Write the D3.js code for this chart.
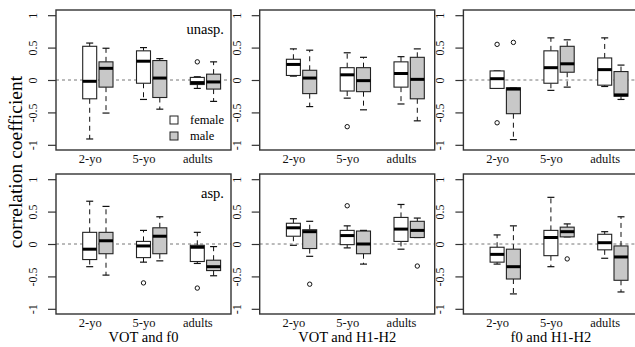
<!DOCTYPE html>
<html>
<head>
<meta charset="utf-8">
<script src="https://cdn.jsdelivr.net/npm/d3@7"></script>
<style>
  body { margin: 0; background: #fff; }
  svg { display: block; font-family: "Liberation Serif", "DejaVu Serif", serif; }
  svg text { font-family: "Liberation Serif", "DejaVu Serif", serif; }
</style>
</head>
<body>
<div id="chart"></div>
<script>
var groups = ["2-yo", "5-yo", "adults"];
var sexes = ["female", "male"];
var measures = ["VOT and f0", "VOT and H1-H2", "f0 and H1-H2"];
var conditions = ["unasp.", "asp."];
var yTicks = [-1, -0.5, 0, 0.5, 1];

// [lower whisker, q1, median, q3, upper whisker]
// order: 2-yo F, 2-yo M, 5-yo F, 5-yo M, adults F, adults M
var unaspVotF0 = [
  [-0.91, -0.29, -0.02, 0.52, 0.57],
  [-0.51, -0.11, 0.18, 0.28, 0.49],
  [-0.30, -0.05, 0.29, 0.45, 0.50],
  [-0.45, -0.27, 0.03, 0.30, 0.33],
  [-0.13, -0.07, -0.04, 0.04, 0.05],
  [-0.33, -0.14, -0.03, 0.09, 0.28]
];
var unaspVotF0Out = [[], [], [], [], [0.28], []];

var unaspVotH1 = [
  [0.06, 0.07, 0.24, 0.32, 0.48],
  [-0.41, -0.21, 0.03, 0.15, 0.46],
  [-0.28, -0.17, 0.08, 0.19, 0.42],
  [-0.46, -0.18, -0.01, 0.19, 0.35],
  [-0.37, -0.11, 0.10, 0.28, 0.36],
  [-0.63, -0.29, 0.01, 0.35, 0.48]
];
var unaspVotH1Out = [[], [], [-0.72], [], [], []];

var unaspF0H1 = [
  [-0.13, -0.13, 0.02, 0.14, 0.14],
  [-0.92, -0.52, -0.14, -0.12, -0.12],
  [-0.16, -0.05, 0.19, 0.45, 0.65],
  [-0.11, 0.12, 0.25, 0.52, 0.62],
  [-0.10, -0.08, 0.16, 0.34, 0.65],
  [-0.30, -0.25, -0.23, 0.13, 0.23]
];
var unaspF0H1Out = [[0.55, -0.66], [0.58], [], [], [], []];

var aspVotF0 = [
  [-0.35, -0.24, -0.08, 0.18, 0.66],
  [-0.48, -0.15, 0.05, 0.18, 0.58],
  [-0.28, -0.21, -0.03, 0.04, 0.21],
  [-0.26, -0.15, 0.12, 0.25, 0.42],
  [-0.30, -0.27, -0.05, -0.02, 0.18],
  [-0.49, -0.41, -0.35, -0.25, -0.04]
];
var aspVotF0Out = [[], [], [-0.60], [], [-0.68], []];

var aspVotH1 = [
  [-0.02, 0.12, 0.25, 0.32, 0.39],
  [-0.19, -0.07, 0.19, 0.22, 0.35],
  [-0.06, -0.01, 0.13, 0.21, 0.28],
  [-0.31, -0.15, 0.00, 0.20, 0.21],
  [-0.08, 0.04, 0.23, 0.41, 0.61],
  [0.10, 0.10, 0.21, 0.35, 0.40]
];
var aspVotH1Out = [[], [-0.62], [0.59], [], [], [-0.34]];

var aspF0H1 = [
  [-0.31, -0.28, -0.16, -0.05, 0.14],
  [-0.77, -0.54, -0.35, -0.08, 0.28],
  [-0.35, -0.18, 0.10, 0.21, 0.72],
  [0.11, 0.11, 0.19, 0.26, 0.31],
  [-0.22, -0.09, 0.02, 0.15, 0.19],
  [-0.74, -0.56, -0.20, -0.03, 0.42]
];
var aspF0H1Out = [[], [], [], [-0.23], [], []];

var panels = [
  { row: 0, col: 0, stats: unaspVotF0, out: unaspVotF0Out, zero: true },
  { row: 0, col: 1, stats: unaspVotH1, out: unaspVotH1Out, zero: false },
  { row: 0, col: 2, stats: unaspF0H1, out: unaspF0H1Out, zero: true },
  { row: 1, col: 0, stats: aspVotF0, out: aspVotF0Out, zero: true },
  { row: 1, col: 1, stats: aspVotH1, out: aspVotH1Out, zero: true },
  { row: 1, col: 2, stats: aspF0H1, out: aspF0H1Out, zero: true }
];

var width = 635, height = 347;
var pw = 175, ph = 140, boxW = 14;
var serif = '"Liberation Serif", "DejaVu Serif", serif';
var fills = { female: "#ffffff", male: "#c8c8c8" };

var svg = d3.select('#chart').append('svg')
    .attr('width', width)
    .attr('height', height);

svg.append('text')
    .attr('transform', 'translate(22,162) rotate(-90)')
    .attr('text-anchor', 'middle')
    .attr('font-size', 19.5)
    .text('correlation coefficient');

panels.forEach(function (p) {
  var left = 56 + p.col * 203.7;
  var top = 10 + p.row * 164;
  var g = svg.append('g').attr('transform', 'translate(' + [left, top] + ')');

  var y = d3.scaleLinear().domain([-1.08, 1.08]).range([ph, 0]);
  var gx = d3.scalePoint().domain(groups).range([33.7, 141.3]);
  var sx = d3.scalePoint().domain(sexes).range([0, 16.3]);

  if (p.zero) {
    g.append('line')
      .attr('x1', 0).attr('x2', pw)
      .attr('y1', y(0)).attr('y2', y(0))
      .attr('stroke', '#777')
      .attr('stroke-width', 1)
      .attr('stroke-dasharray', '3,3');
  }

  var boxes = [];
  groups.forEach(function (gr, gi) {
    sexes.forEach(function (s, si) {
      var k = gi * 2 + si;
      boxes.push({ group: gr, sex: s, v: p.stats[k], out: p.out[k] });
    });
  });

  var b = g.selectAll('g.box')
      .data(boxes)
      .enter().append('g')
      .attr('class', 'box')
      .attr('transform', d => 'translate(' + (gx(d.group) + sx(d.sex)) + ',0)');

  // whiskers
  b.append('line')
      .attr('x1', 0).attr('x2', 0)
      .attr('y1', d => y(d.v[3])).attr('y2', d => y(d.v[4]))
      .attr('stroke', '#111').attr('stroke-dasharray', '5,4');
  b.append('line')
      .attr('x1', 0).attr('x2', 0)
      .attr('y1', d => y(d.v[1])).attr('y2', d => y(d.v[0]))
      .attr('stroke', '#111').attr('stroke-dasharray', '5,4');
  // staples
  [0, 4].forEach(function (i) {
    b.append('line')
      .attr('x1', -boxW / 4).attr('x2', boxW / 4)
      .attr('y1', d => y(d.v[i])).attr('y2', d => y(d.v[i]))
      .attr('stroke', '#111').attr('stroke-width', 1.2);
  });
  b.append('rect')
      .attr('x', -boxW / 2)
      .attr('width', boxW)
      .attr('y', d => y(d.v[3]))
      .attr('height', d => y(d.v[1]) - y(d.v[3]))
      .attr('fill', d => fills[d.sex])
      .attr('stroke', '#222')
      .attr('stroke-width', 1.1);
  b.append('line')
      .attr('x1', -boxW / 2).attr('x2', boxW / 2)
      .attr('y1', d => y(d.v[2])).attr('y2', d => y(d.v[2]))
      .attr('stroke', '#000').attr('stroke-width', 3);
  b.selectAll('circle')
      .data(d => d.out)
      .enter().append('circle')
      .attr('cx', 0).attr('cy', d => y(d))
      .attr('r', 2.2)
      .attr('fill', 'none')
      .attr('stroke', '#111');

  // frame
  g.append('rect')
      .attr('width', pw).attr('height', ph)
      .attr('fill', 'none')
      .attr('stroke', '#333')
      .attr('stroke-width', 1.4);

  var yAxis = g.append('g')
      .call(d3.axisLeft(y).tickValues(yTicks).tickSize(8).tickFormat(d => String(d)))
      .attr('font-family', serif)
      .attr('font-size', 12);
  yAxis.select('.domain').remove();
  yAxis.selectAll('line').attr('stroke', '#333').attr('stroke-width', 1.2);
  yAxis.selectAll('text')
      .attr('x', null).attr('dy', null)
      .attr('transform', 'translate(-19,0) rotate(-90)')
      .attr('text-anchor', 'middle')
      .attr('fill', '#111');

  var xAxis = g.append('g')
      .attr('transform', 'translate(0,' + ph + ')')
      .call(d3.axisBottom(gx).tickSize(0).tickPadding(4.5))
      .attr('font-family', serif)
      .attr('font-size', 12.5);
  xAxis.select('.domain').remove();
  xAxis.selectAll('text').attr('fill', '#111');

  if (p.col === 0) {
    g.append('text')
      .attr('x', 168).attr('y', 24)
      .attr('text-anchor', 'end')
      .attr('font-size', 14.5)
      .text(conditions[p.row]);
  }
  if (p.row === 1) {
    g.append('text')
      .attr('x', pw / 2).attr('y', ph + 28)
      .attr('text-anchor', 'middle')
      .attr('font-size', 14.5)
      .text(measures[p.col]);
  }
  if (p.row === 0 && p.col === 0) {
    var leg = g.selectAll('g.leg')
        .data(sexes)
        .enter().append('g')
        .attr('class', 'leg')
        .attr('transform', (d, i) => 'translate(114,' + (106 + i * 16) + ')');
    leg.append('rect')
        .attr('width', 8).attr('height', 8)
        .attr('fill', d => fills[d])
        .attr('stroke', '#222');
    leg.append('text')
        .attr('x', 20).attr('y', 8)
        .attr('font-size', 12.5)
        .text(d => d);
  }
});
</script>
</body>
</html>
